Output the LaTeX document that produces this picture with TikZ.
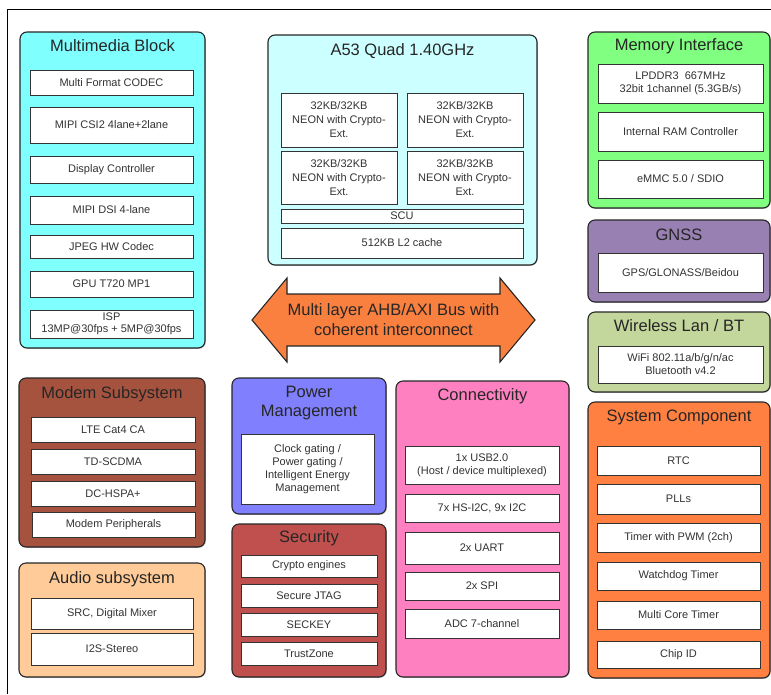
\documentclass[tikz,border=0pt]{standalone}
\usepackage{fontspec}
\setmainfont{Liberation Sans}
\usetikzlibrary{shadows}
\definecolor{cMM}{HTML}{80FFFF}
\definecolor{cA}{HTML}{CCFFFF}
\definecolor{cMem}{HTML}{80FF80}
\definecolor{cGnss}{HTML}{9980B3}
\definecolor{cWl}{HTML}{C3D69B}
\definecolor{cBus}{HTML}{FA803F}
\definecolor{cModem}{HTML}{A5533F}
\definecolor{cAudio}{HTML}{FFCC99}
\definecolor{cPow}{HTML}{8080FF}
\definecolor{cSec}{HTML}{C0504D}
\definecolor{cCon}{HTML}{FF80C0}
\definecolor{cSys}{HTML}{FF8040}
\newcommand\blk[7]{\node[#5, minimum width={(#3)-(#1)}, minimum height={(#4)-(#2)}] (#6) at ({((#1)+(#3))/2},{((#2)+(#4))/2}) {#7};}
\begin{document}
\begin{tikzpicture}[x=1pt,y=-1pt,
  outer/.style={draw=black!85, line width=1.1pt, rounded corners=7pt, inner sep=0pt,
    drop shadow={shadow xshift=0.8pt,shadow yshift=-0.8pt,fill=black!50,opacity=0.5}},
  inner/.style={draw=black!80, fill=white, line width=0.9pt, inner sep=0pt, align=center,
    font=\fontsize{11}{13}\selectfont, text=black!80,
    drop shadow={shadow xshift=1pt,shadow yshift=-1pt,fill=black!45,opacity=0.6}},
  ttl/.style={font=\fontsize{16.5}{19}\selectfont, text=black!85, align=center, inner sep=0pt}]
\useasboundingbox (0,0) rectangle (771,694);
\draw[line width=1pt] (7,694) -- (7,9) -- (771,9);
% Multimedia
\blk{20}{32}{205}{348}{outer,fill=cMM}{mm}{}
\node[ttl] (mmT) at (112.5,46) {Multimedia Block};
\blk{30}{70}{193}{95}{inner}{mm1}{Multi Format CODEC}
\blk{30}{107}{193}{143}{inner}{mm2}{MIPI CSI2 4lane+2lane}
\blk{30}{156}{193}{183}{inner}{mm3}{Display Controller}
\blk{30}{196}{193}{224}{inner}{mm4}{MIPI DSI 4-lane}
\blk{30}{235}{193}{258}{inner}{mm5}{JPEG HW Codec}
\blk{30}{271}{193}{297}{inner}{mm6}{GPU T720 MP1}
\blk{30}{310}{193}{338}{inner,font=\fontsize{11}{12}\selectfont}{mm7}{ISP\\13MP@30fps + 5MP@30fps}
% A53
\blk{268}{35}{537}{265}{outer,fill=cA}{cpu}{}
\node[ttl] (cpuT) at (402.5,51) {A53 Quad 1.40GHz};
\blk{281}{93}{397}{147}{inner,font=\fontsize{11}{14}\selectfont}{c1}{32KB/32KB\\NEON with Crypto-\\Ext.}
\blk{407}{93}{523}{147}{inner,font=\fontsize{11}{14}\selectfont}{c2}{32KB/32KB\\NEON with Crypto-\\Ext.}
\blk{281}{151}{397}{204}{inner,font=\fontsize{11}{14}\selectfont}{c3}{32KB/32KB\\NEON with Crypto-\\Ext.}
\blk{407}{151}{523}{204}{inner,font=\fontsize{11}{14}\selectfont}{c4}{32KB/32KB\\NEON with Crypto-\\Ext.}
\blk{281}{209}{523}{223}{inner}{scu}{SCU}
\blk{281}{228}{523}{258}{inner}{l2}{512KB L2 cache}
% Memory
\blk{588}{32}{770}{208}{outer,fill=cMem}{mem}{}
\node[ttl] (memT) at (679,46) {Memory Interface};
\blk{598}{64}{763}{103}{inner}{mem1}{LPDDR3~~667MHz\\32bit 1channel (5.3GB/s)}
\blk{598}{112}{763}{151}{inner}{mem2}{Internal RAM Controller}
\blk{598}{160}{763}{198}{inner}{mem3}{eMMC 5.0 / SDIO}
% GNSS
\blk{588}{220}{770}{302}{outer,fill=cGnss}{gn}{}
\node[ttl] (gnT) at (679,235) {GNSS};
\blk{598}{253}{763}{292}{inner}{gn1}{GPS/GLONASS/Beidou}
% Wireless
\blk{588}{312}{770}{392}{outer,fill=cWl}{wl}{}
\node[ttl] (wlT) at (679,326) {Wireless Lan / BT};
\blk{598}{346}{763}{383}{inner}{wl1}{WiFi 802.11a/b/g/n/ac\\Bluetooth v4.2}
% Bus arrow
\draw[draw=black!85, line width=1.1pt, fill=cBus, line join=miter]
  (252,320) -- (287,278) -- (287,294) -- (500,294) -- (500,278) -- (535,320)
  -- (500,362) -- (500,346) -- (287,346) -- (287,362) -- cycle;
\node[ttl, font=\fontsize{16.5}{20}\selectfont] (bus) at (393.5,320) {Multi layer AHB/AXI Bus with\\coherent interconnect};
% Modem
\blk{19}{378}{205}{547}{outer,fill=cModem}{mo}{}
\node[ttl] (moT) at (112,394) {Modem Subsystem};
\blk{31}{417}{195}{442}{inner}{mo1}{LTE Cat4 CA}
\blk{31}{449}{195}{474}{inner}{mo2}{TD-SCDMA}
\blk{31}{481}{195}{506}{inner}{mo3}{DC-HSPA+}
\blk{32}{512}{195}{537}{inner}{mo4}{Modem Peripherals}
% Audio
\blk{19}{563}{205}{677}{outer,fill=cAudio}{au}{}
\node[ttl] (auT) at (112,579) {Audio subsystem};
\blk{31}{598}{193}{629}{inner}{au1}{SRC, Digital Mixer}
\blk{31}{633}{193}{665}{inner}{au2}{I2S-Stereo}
% Power
\blk{232}{378}{386}{514}{outer,fill=cPow}{pw}{}
\node[ttl] (pwT) at (309,403) {Power\\Management};
\blk{241}{434}{374}{504}{inner}{pw1}{Clock gating /\\Power gating /\\Intelligent Energy\\Management}
% Security
\blk{232}{524}{386}{677}{outer,fill=cSec}{se}{}
\node[ttl] (seT) at (309,538) {Security};
\blk{241}{555}{377}{577}{inner}{se1}{Crypto engines}
\blk{241}{584}{377}{607}{inner}{se2}{Secure JTAG}
\blk{241}{613}{377}{636}{inner}{se3}{SECKEY}
\blk{241}{642}{377}{665}{inner}{se4}{TrustZone}
% Connectivity
\blk{396}{381}{569}{677}{outer,fill=cCon}{co}{}
\node[ttl] (coT) at (482.5,396) {Connectivity};
\blk{405}{446}{559}{484}{inner}{co1}{1x USB2.0\\(Host / device multiplexed)}
\blk{405}{494}{559}{522}{inner}{co2}{7x HS-I2C, 9x I2C}
\blk{405}{532}{559}{564}{inner}{co3}{2x UART}
\blk{405}{572}{559}{600}{inner}{co4}{2x SPI}
\blk{405}{609}{559}{638}{inner}{co5}{ADC 7-channel}
% System
\blk{588}{402}{770}{678}{outer,fill=cSys}{sy}{}
\node[ttl] (syT) at (679,417) {System Component};
\blk{597}{446}{760}{475}{inner}{sy1}{RTC}
\blk{597}{484}{760}{514}{inner}{sy2}{PLLs}
\blk{597}{523}{760}{552}{inner}{sy3}{Timer with PWM (2ch)}
\blk{597}{562}{760}{590}{inner}{sy4}{Watchdog Timer}
\blk{597}{601}{760}{629}{inner}{sy5}{Multi Core Timer}
\blk{597}{641}{760}{668}{inner}{sy6}{Chip ID}
\end{tikzpicture}
\end{document}
